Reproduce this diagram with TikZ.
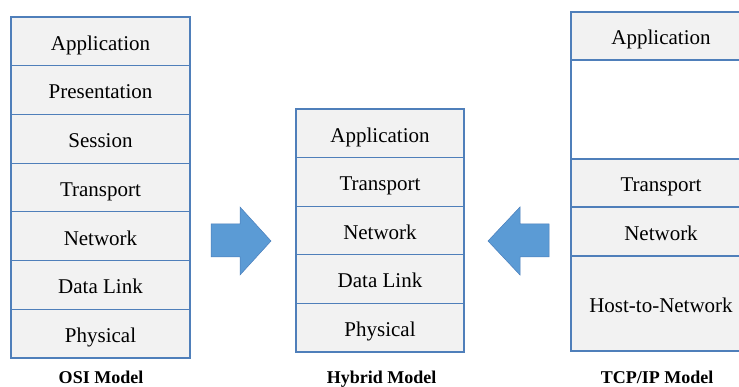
\documentclass[tikz,border=0pt]{standalone}
\usepackage{fontspec}
\setmainfont{Liberation Serif}
\definecolor{layfill}{HTML}{F2F2F2}
\definecolor{layline}{HTML}{4F7FBA}
\definecolor{arrfill}{HTML}{5B9BD5}
\definecolor{arrline}{HTML}{4A7EBB}
\begin{document}
\begin{tikzpicture}[x=1pt,y=-1pt,
  layer/.style={fill=layfill,draw=layline,line width=1.1pt},
  ltext/.style={font=\fontsize{21}{24}\selectfont,anchor=center,inner sep=0pt,yshift=-4pt},
  modelcap/.style={font=\fontsize{18}{20}\selectfont\bfseries,anchor=base,inner sep=0pt},
  bigarrow/.style={fill=arrfill,draw=arrline,line width=0.5pt}]
\useasboundingbox (0,0) rectangle (739,387);
\clip (0,0) rectangle (739,387);
% OSI model
\foreach \i [count=\k from 0] in {Application,Presentation,Session,Transport,Network,Data Link,Physical}{
  \pgfmathsetmacro{\ya}{17+48.714*\k}
  \pgfmathsetmacro{\yb}{17+48.714*(\k+1)}
  \draw[layer] (11,\ya) rectangle (190,\yb);
  \node[ltext] (osi\k) at (100.5,{(\ya+\yb)/2}) {\strut\i};
}
% Hybrid model
\foreach \i [count=\k from 0] in {Application,Transport,Network,Data Link,Physical}{
  \pgfmathsetmacro{\ya}{109+48.6*\k}
  \pgfmathsetmacro{\yb}{109+48.6*(\k+1)}
  \draw[layer] (296,\ya) rectangle (464,\yb);
  \node[ltext] (hyb\k) at (380,{(\ya+\yb)/2}) {\strut\i};
}
% TCP/IP model
\draw[layer] (571,12) rectangle (752,60);
\draw[layer,fill=white] (571,60) rectangle (752,159);
\draw[layer] (571,159) rectangle (752,207);
\draw[layer] (571,207) rectangle (752,256);
\draw[layer] (571,256) rectangle (752,351);
\node[ltext] (tcpapp) at (661,36) {\strut Application};
\node[ltext] (tcptr) at (661,183) {\strut Transport};
\node[ltext] (tcpnet) at (661,231.5) {\strut Network};
\node[ltext] (tcphost) at (661,303.5) {\strut Host-to-Network};
% arrows
\draw[bigarrow] (211,224) -- (240,224) -- (240,207) -- (271,241) -- (240,275) -- (240,257) -- (211,257) -- cycle;
\draw[bigarrow] (549,224) -- (520,224) -- (520,207) -- (488,241) -- (520,275) -- (520,257) -- (549,257) -- cycle;
% captions
\node[modelcap] (caposi) at (101,383) {OSI Model};
\node[modelcap] (caphyb) at (381.5,383) {Hybrid Model};
\node[modelcap] (captcp) at (657,383) {TCP/IP Model};
\end{tikzpicture}
\end{document}
